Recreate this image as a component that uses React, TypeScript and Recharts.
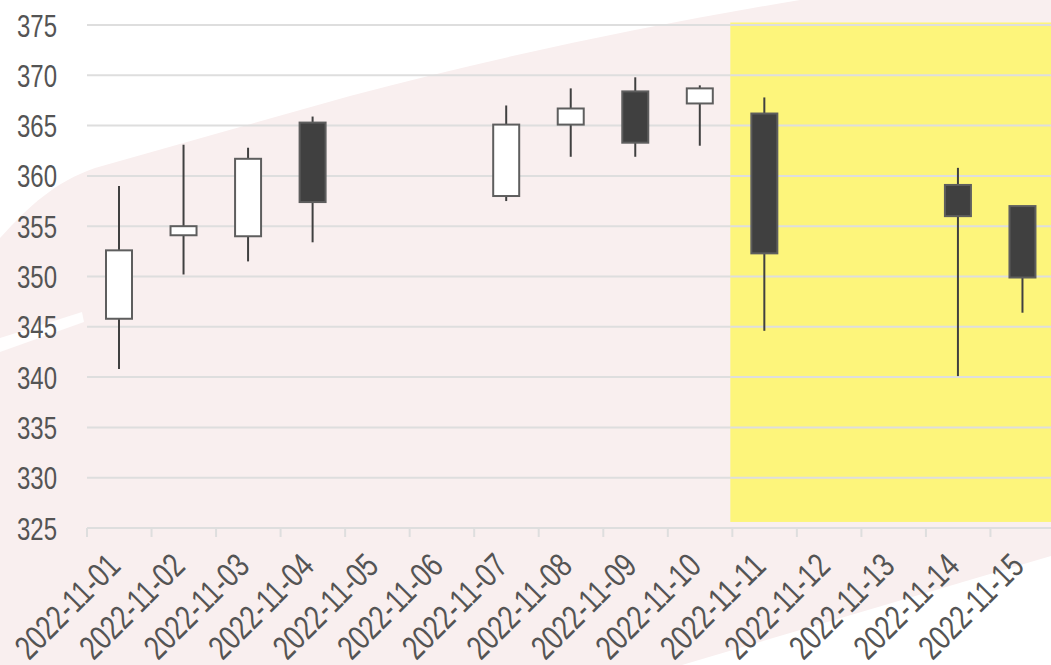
import React from 'react';
import { ComposedChart, Bar, XAxis, YAxis, CartesianGrid, ReferenceArea } from 'recharts';

const dates = [
  '2022-11-01', '2022-11-02', '2022-11-03', '2022-11-04', '2022-11-05',
  '2022-11-06', '2022-11-07', '2022-11-08', '2022-11-09', '2022-11-10',
  '2022-11-11', '2022-11-12', '2022-11-13', '2022-11-14', '2022-11-15',
];
const opens = [345.8, 354.1, 354.0, 365.3, null, null, 358.0, 365.1, 368.4, 367.2, 366.2, null, null, 359.1, 357.0];
const closes = [352.6, 355.0, 361.7, 357.4, null, null, 365.1, 366.7, 363.3, 368.7, 352.3, null, null, 356.0, 349.9];
const highs = [359.0, 363.1, 362.8, 365.9, null, null, 367.0, 368.7, 369.8, 369.0, 367.8, null, null, 360.8, 357.0];
const lows = [340.8, 350.2, 351.5, 353.4, null, null, 357.5, 361.9, 361.9, 363.0, 344.6, null, null, 340.1, 346.4];
const yTicks = [325, 330, 335, 340, 345, 350, 355, 360, 365, 370, 375];
const highlightFrom = '2022-11-11';
const highlightLow = 325.6;
const highlightHigh = 375.25;

const data = dates.map((date, i) => ({
  date,
  open: opens[i],
  close: closes[i],
  high: highs[i],
  low: lows[i],
  range: highs[i] == null ? null : [lows[i], highs[i]],
}));

const FONT = '"Liberation Sans", Arial, sans-serif';
const TEXT = '#545454';
const GRID = '#dedede';
const BAND = 968 / 15;

const Candle = (props: any) => {
  const { x, y, width, height, payload } = props;
  if (payload.high == null) return null;
  const k = height / (payload.high - payload.low);
  const cx = x + width / 2;
  const top = y + (payload.high - Math.max(payload.open, payload.close)) * k;
  const bottom = y + (payload.high - Math.min(payload.open, payload.close)) * k;
  const up = payload.close >= payload.open;
  return (
    <g>
      <line x1={cx} x2={cx} y1={y} y2={y + height} stroke="#404040" strokeWidth={2} />
      <rect
        x={x}
        y={top}
        width={width}
        height={Math.max(bottom - top, 1)}
        fill={up ? '#ffffff' : '#404040'}
        stroke="#5e5e5e"
        strokeWidth={2}
      />
    </g>
  );
};

// yellow band, with the grid lines redrawn on top of it
const Highlight = (props: any) => {
  const { x, y, width, height } = props;
  const k = height / (highlightHigh - highlightLow);
  return (
    <g>
      <rect x={x - 2} y={y} width={width + 2} height={height} fill="#fdf57b" />
      {yTicks.filter((t) => t > highlightLow && t < highlightHigh).map((t) => {
        const py = y + (highlightHigh - t) * k;
        return <line key={t} x1={x - 2} x2={x + width} y1={py} y2={py} stroke={GRID} strokeWidth={2} />;
      })}
    </g>
  );
};

const DateTick = ({ x, y, payload }: any) => (
  <g>
    <line x1={x - BAND / 2} x2={x - BAND / 2} y1={y - 9} y2={y} stroke={GRID} strokeWidth={2} />
    <g transform={`translate(${x + 3},${y + 31}) rotate(-45)`}>
      <text
        x={0}
        y={0}
        textAnchor="end"
        textLength={132}
        lengthAdjust="spacingAndGlyphs"
        fill={TEXT}
        fontSize={34}
        fontFamily={FONT}
      >
        {payload.value}
      </text>
    </g>
  </g>
);

const ValueTick = ({ x, y, payload }: any) => (
  <text
    x={x}
    y={y}
    dy="0.36em"
    textAnchor="end"
    textLength={40}
    lengthAdjust="spacingAndGlyphs"
    fill={TEXT}
    fontSize={32}
    fontFamily={FONT}
  >
    {payload.value}
  </text>
);

export default function App() {
  return (
    <div style={{ position: 'absolute', left: 0, top: 0, width: 1051, height: 665, overflow: 'hidden', background: '#fff' }}>
      <svg width={1051} height={665} style={{ position: 'absolute', left: 0, top: 0 }}>
        <path
          d="M0 238 C30 205 55 182 95 168 L350 96 Q560 40 800 0 L1051 0 L1051 556 L682 665 L0 665 Z"
          fill="#f9efef"
        />
        <path d="M0 338 L82 312 L84 322 L0 352 Z" fill="#ffffff" opacity={0.9} />
      </svg>
      <div style={{ position: 'absolute', left: 0, top: 0 }}>
        <ComposedChart width={1060} height={665} data={data} margin={{ top: 25, right: 5, left: 0, bottom: 0 }}>
          <CartesianGrid vertical={false} stroke={GRID} strokeWidth={2} />
          <XAxis
            dataKey="date"
            interval={0}
            height={137}
            tickSize={9}
            tickMargin={0}
            tickLine={false}
            axisLine={{ stroke: GRID, strokeWidth: 2 }}
            tick={<DateTick />}
          />
          <YAxis
            domain={[325, 375]}
            ticks={yTicks}
            width={87}
            axisLine={false}
            tickLine={false}
            tickSize={0}
            tickMargin={30}
            tick={<ValueTick />}
          />
          <ReferenceArea
            x1={highlightFrom}
            y1={highlightLow}
            y2={highlightHigh}
            ifOverflow="visible"
            shape={<Highlight />}
          />
          <Bar dataKey="range" barSize={26} shape={<Candle />} isAnimationActive={false} />
        </ComposedChart>
      </div>
    </div>
  );
}
